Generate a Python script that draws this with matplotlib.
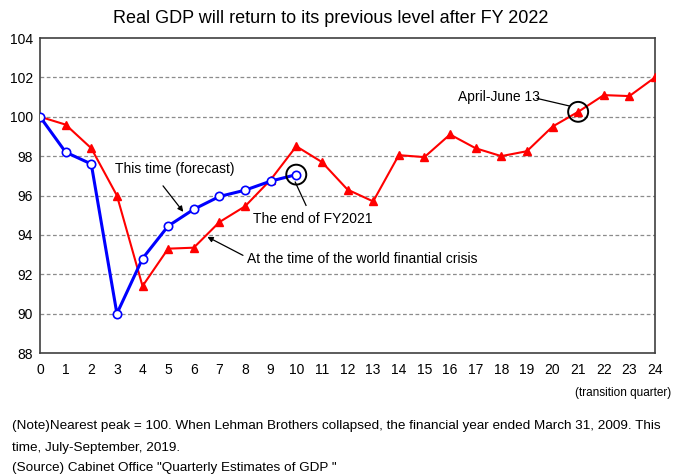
import matplotlib
matplotlib.use("Agg")
import matplotlib.pyplot as plt
from matplotlib.patches import Ellipse

plt.rcParams['font.family'] = ['Liberation Sans', 'DejaVu Sans']

# quarters since the nearest peak
quarters = list(range(25))
crisis = [100.0, 99.6, 98.4, 96.0, 91.4, 93.3, 93.35, 94.65, 95.45, 96.8,
          98.5, 97.7, 96.3, 95.7, 98.05, 97.95, 99.1, 98.4, 98.0, 98.25,
          99.5, 100.25, 101.1, 101.05, 102.0]
this_time = [100.0, 98.2, 97.6, 90.0, 92.8, 94.45, 95.3, 95.95, 96.27, 96.73, 97.06]
yticks = [88, 90, 92, 94, 96, 98, 100, 102, 104]


def main():
    fig = plt.figure(figsize=(6.75, 4.75), dpi=100)
    ax = fig.add_axes([0.0593, 0.2568, 0.9111, 0.6632])

    ax.plot(quarters, crisis, color='red', lw=1.5, marker='^', ms=6,
            markeredgecolor='red', zorder=3)
    ax.plot(quarters[:len(this_time)], this_time, color='#0000ff', lw=2.2,
            marker='o', ms=6, markerfacecolor='white', markeredgecolor='#0000ff',
            markeredgewidth=1.2, zorder=4)

    ax.set_xlim(0, 24)
    ax.set_ylim(88, 104)
    ax.set_xticks(quarters)
    ax.set_yticks(yticks)
    ax.tick_params(axis='x', length=0, labelsize=10, pad=7)
    ax.tick_params(axis='y', length=0, labelsize=10, pad=5)
    for y in yticks[1:-1]:
        ax.axhline(y, color='#8c8c8c', lw=0.9, ls=(0, (3, 2)), zorder=1)
    for s in ax.spines.values():
        s.set_color('#404040')
        s.set_linewidth(1.2)

    # circles marking the end of FY2021 and April-June 13
    ax.add_patch(Ellipse((quarters[10], this_time[10]), 0.78, 1.01, fill=False,
                         lw=1.4, color='black', zorder=5))
    ax.add_patch(Ellipse((quarters[21], crisis[21]), 0.78, 1.01, fill=False,
                         lw=1.4, color='black', zorder=5))

    ax.text(2.93, 97.35, 'This time (forecast)', fontsize=10, ha='left', va='center')
    ax.annotate('', xy=(5.59, 95.17), xytext=(4.8, 96.49),
                arrowprops=dict(arrowstyle='-|>', color='black', lw=0.9,
                                mutation_scale=8, shrinkA=0, shrinkB=0))
    ax.plot([9.96, 10.38], [96.68, 95.5], color='black', lw=0.9)
    ax.text(8.32, 94.82, 'The end of FY2021', fontsize=10, ha='left', va='center')
    ax.text(8.09, 92.8, 'At the time of the world finantial crisis', fontsize=10,
            ha='left', va='center')
    ax.annotate('', xy=(6.53, 93.9), xytext=(7.92, 92.96),
                arrowprops=dict(arrowstyle='-|>', color='black', lw=0.9,
                                mutation_scale=8, shrinkA=0, shrinkB=0))
    ax.text(16.33, 101.0, 'April-June 13', fontsize=10, ha='left', va='center')
    ax.plot([19.4, 20.65], [100.93, 100.55], color='black', lw=0.9)

    fig.text(0.49, 0.962, 'Real GDP will return to its previous level after FY 2022',
             fontsize=13, ha='center', va='center')
    fig.text(0.995, 0.172, '(transition quarter)', fontsize=8.5, ha='right', va='center')
    fig.text(0.018, 0.103, '(Note)Nearest peak = 100. When Lehman Brothers collapsed, '
             'the financial year ended March 31, 2009. This', fontsize=9.7, va='center')
    fig.text(0.018, 0.057, 'time, July-September, 2019.', fontsize=9.7, va='center')
    fig.text(0.018, 0.015, '(Source) Cabinet Office "Quarterly Estimates of GDP "',
             fontsize=9.7, va='center')

    fig.savefig('out.png', dpi=100)


if __name__ == "__main__":
    main()
